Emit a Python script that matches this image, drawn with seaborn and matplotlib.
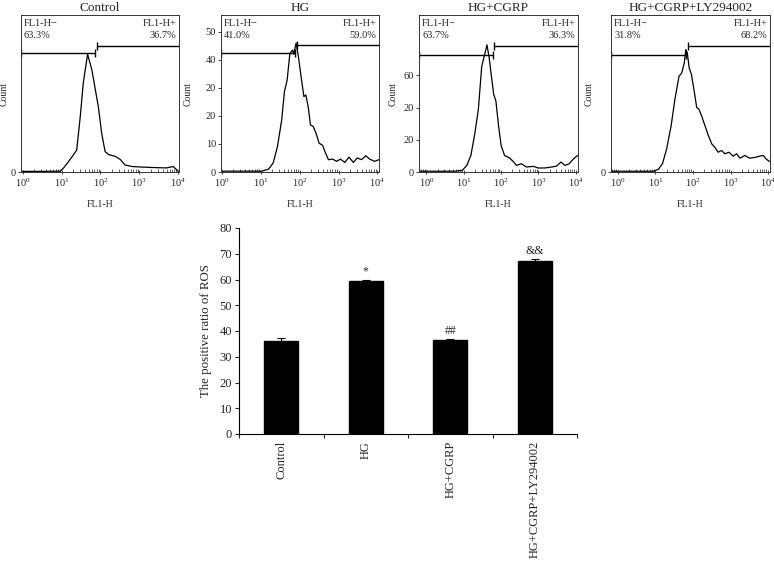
import numpy as np
import pandas as pd
import matplotlib
matplotlib.use("Agg")
import matplotlib.pyplot as plt
import seaborn as sns

# ---- flow cytometry panels ----
PANEL_TITLES = ['Control', 'HG', 'HG+CGRP', 'HG+CGRP+LY294002']
NEG_PCT = ['63.3%', '41.0%', '63.7%', '31.8%']
POS_PCT = ['36.7%', '59.0%', '36.3%', '68.2%']

# traces: log10(FL1-H) and count
control_log = [-0.05, 0.5, 0.97, 1.05, 1.19, 1.28, 1.39, 1.48, 1.56, 1.67, 1.78, 1.95,
               2.03, 2.12, 2.22, 2.38, 2.51, 2.63, 2.81, 3.02, 3.40, 3.70, 3.87, 4.0]
control_count = [0.4, 0.4, 0.5, 2.5, 7, 10, 14, 35, 57, 75, 65, 41,
                 25, 13, 11, 10, 8, 4.5, 3.5, 3.2, 2.8, 2.6, 3.5, 0.5]

hg_log = [-0.02, 0.5, 1.03, 1.2, 1.32, 1.43, 1.54, 1.61, 1.68, 1.75, 1.82, 1.85, 1.91,
          1.97, 2.05, 2.11, 2.16, 2.22, 2.28, 2.35, 2.42, 2.50, 2.59, 2.65, 2.74, 2.85,
          2.95, 3.05, 3.16, 3.27, 3.38, 3.48, 3.59, 3.70, 3.80, 3.93, 4.04]
hg_count = [0.3, 0.3, 0.3, 1.0, 3.2, 9.0, 18.6, 28.7, 32.8, 42.3, 43.5, 42.0, 46.0,
            41.0, 32.8, 26.9, 27.5, 23.3, 16.8, 16.2, 13.9, 10.3, 9.5, 7.3, 4.4, 4.6,
            3.8, 4.6, 3.4, 5.3, 3.4, 5.0, 4.4, 5.8, 4.6, 3.8, 4.4]

cgrp_log = [-0.2, 0.3, 0.78, 0.96, 1.08, 1.19, 1.30, 1.39, 1.48, 1.57, 1.62, 1.68, 1.75,
            1.80, 1.86, 1.93, 2.0, 2.09, 2.23, 2.32, 2.41, 2.54, 2.68, 2.86, 2.99, 3.17,
            3.35, 3.49, 3.60, 3.71, 3.82, 3.94, 4.05]
cgrp_count = [0.5, 0.5, 0.5, 1.0, 4.1, 10.3, 24.6, 39.0, 65.7, 74.0, 79.0, 70.8, 57.5,
              48.3, 44.0, 28.7, 16.4, 10.3, 8.6, 6.6, 4.1, 5.1, 3.1, 3.5, 2.5, 2.5,
              3.1, 3.7, 6.2, 4.1, 5.1, 8.2, 10.3]

ly_log = [-0.18, 0.4, 0.95, 1.08, 1.19, 1.30, 1.42, 1.52, 1.63, 1.70, 1.77, 1.81, 1.85,
          1.90, 1.96, 2.04, 2.10, 2.16, 2.23, 2.32, 2.41, 2.50, 2.58, 2.67, 2.76, 2.85,
          2.96, 3.07, 3.16, 3.25, 3.38, 3.51, 3.65, 3.78, 3.87, 3.96, 4.04]
ly_count = [0.5, 0.5, 0.5, 1.7, 5.3, 14.7, 29.5, 46.3, 61.0, 63.0, 69.5, 78.0, 75.8,
            66.3, 62.1, 50.5, 41.0, 40.0, 35.8, 29.5, 23.2, 17.9, 15.8, 12.6, 13.7, 11.6,
            12.6, 10.1, 11.6, 8.8, 10.5, 8.8, 9.3, 10.1, 10.5, 8.0, 6.7]

TRACE_LOG = [control_log, hg_log, cgrp_log, ly_log]
TRACE_COUNT = [control_count, hg_count, cgrp_count, ly_count]

# gate (marker) settings: split point on log axis, heights of negative / positive bars
GATE_SPLIT = [1.86, 1.88, 1.77, 1.81]
GATE_NEG_Y = [75.6, 42.5, 72.9, 74.7]
GATE_POS_Y = [80.5, 45.3, 78.0, 80.0]

PANEL_YMAX = [100, 56, 97.5, 100]
PANEL_XLIM = [(-0.05, 4.02), (-0.02, 4.04), (-0.2, 4.05), (-0.18, 4.05)]
PANEL_YTICKS = [[0], [0, 10, 20, 30, 40, 50], [0, 20, 40, 60], [0]]
PANEL_YTICKLABELS = [['0'], ['0', '10', '20', '20', '40', '50'], ['0', '20', '20', '60'], ['0']]

# ---- bar chart ----
GROUPS = ['Control', 'HG', 'HG+CGRP', 'HG+CGRP+LY294002']
ROS_MEAN = [36.3, 59.4, 36.4, 67.3]
ROS_ERR = [0.8, 0.6, 0.4, 0.8]
SIG_MARKS = ['', '*', '##', '&&']

sns.set_style("ticks")
plt.rcParams['font.family'] = ['Liberation Serif', 'DejaVu Serif']
plt.rcParams['mathtext.fontset'] = 'stix'

fig = plt.figure(figsize=(7.74, 5.64), dpi=100)
W, H = 774, 564

# axes rectangles in pixels (left, right, top, bottom)
hist_px = [(20.7, 179, 15, 172), (221, 379, 15, 172), (419, 577.7, 15, 172), (611, 770, 15, 172)]
ylabel_off = [12, 28, 21, 17]

for i, (l, r, t, b) in enumerate(hist_px):
    ax = fig.add_axes([l / W, 1 - b / H, (r - l) / W, (b - t) / H])
    df = pd.DataFrame({'fl1': np.power(10.0, TRACE_LOG[i]), 'count': TRACE_COUNT[i]})
    sns.lineplot(data=df, x='fl1', y='count', ax=ax, color='black', lw=0.9, sort=False)
    ax.set_xscale('log')
    ax.set_xlim(10 ** PANEL_XLIM[i][0], 10 ** PANEL_XLIM[i][1])
    ax.set_ylim(0, PANEL_YMAX[i])
    ax.set_yticks(PANEL_YTICKS[i])
    ax.set_yticklabels(PANEL_YTICKLABELS[i])
    ax.set_xticks([1, 10, 100, 1000, 10000])
    for s in ax.spines.values():
        s.set_linewidth(0.7)
        s.set_color('#333333')
    ax.tick_params(axis='x', which='major', direction='inout', length=3, width=0.6,
                   labelsize=7.5, pad=2)
    ax.tick_params(axis='x', which='minor', direction='in', length=2, width=0.5)
    ax.tick_params(axis='y', direction='out', length=2, width=0.6, labelsize=7.5, pad=1.5)
    ax.set_title(PANEL_TITLES[i], fontsize=9.5, pad=3)
    ax.set_xlabel('FL1-H', fontsize=7, labelpad=8)
    ax.set_ylabel('Count', fontsize=7)
    ax.yaxis.set_label_coords(-ylabel_off[i] / (r - l), 0.5)

    # gate markers
    x0, x1 = 10 ** PANEL_XLIM[i][0], 10 ** PANEL_XLIM[i][1]
    xs = 10 ** GATE_SPLIT[i]
    cap = 0.025 * PANEL_YMAX[i]
    ax.hlines(GATE_NEG_Y[i], x0, xs, color='black', lw=1.0)
    ax.vlines([x0 * 1.02, xs], GATE_NEG_Y[i] - cap, GATE_NEG_Y[i] + cap, color='black', lw=1.0)
    ax.hlines(GATE_POS_Y[i], xs * 1.12, x1, color='black', lw=1.0)
    ax.vlines(xs * 1.12, GATE_POS_Y[i] - cap, GATE_POS_Y[i] + cap, color='black', lw=1.0)

    ax.text(0.02, 0.975, 'FL1-H\u2212', transform=ax.transAxes, fontsize=7.5, va='top', ha='left')
    ax.text(0.02, 0.895, NEG_PCT[i], transform=ax.transAxes, fontsize=7.5, va='top', ha='left')
    ax.text(0.985, 0.975, 'FL1-H+', transform=ax.transAxes, fontsize=7.5, va='top', ha='right')
    ax.text(0.985, 0.895, POS_PCT[i], transform=ax.transAxes, fontsize=7.5, va='top', ha='right')

# bar chart
bl, br, bt, bb = 239, 577, 228, 434
bax = fig.add_axes([bl / W, 1 - bb / H, (br - bl) / W, (bb - bt) / H])
bar_df = pd.DataFrame({'group': GROUPS, 'ratio': ROS_MEAN})
sns.barplot(data=bar_df, x='group', y='ratio', color='black', width=0.4, ax=bax,
            edgecolor='black', errorbar=None)
bax.errorbar(range(len(GROUPS)), ROS_MEAN, yerr=ROS_ERR, fmt='none', ecolor='black',
             elinewidth=0.8, capsize=3, capthick=0.8)
for i, mark in enumerate(SIG_MARKS):
    if mark:
        bax.annotate(mark, (i, ROS_MEAN[i] + ROS_ERR[i]), xytext=(0, 1.5),
                     textcoords='offset points', ha='center', va='bottom', fontsize=8.5)
bax.set_xlim(-0.5, len(GROUPS) - 0.5)
bax.set_ylim(0, 80)
bax.set_yticks(range(0, 81, 10))
bax.set_xticks(np.arange(-0.5, len(GROUPS), 1.0), minor=True)
bax.tick_params(axis='x', which='major', length=0, labelsize=9, pad=5, labelrotation=90)
bax.tick_params(axis='x', which='minor', direction='out', length=3, width=0.8)
bax.tick_params(axis='y', direction='out', length=3, width=0.8, labelsize=9, pad=2)
bax.set_xlabel('')
bax.set_ylabel('The positive ratio of ROS', fontsize=9.3, labelpad=5)
sns.despine(ax=bax)
for s in ['left', 'bottom']:
    bax.spines[s].set_linewidth(0.8)
    bax.spines[s].set_color('black')

fig.savefig('out.png', dpi=100)
